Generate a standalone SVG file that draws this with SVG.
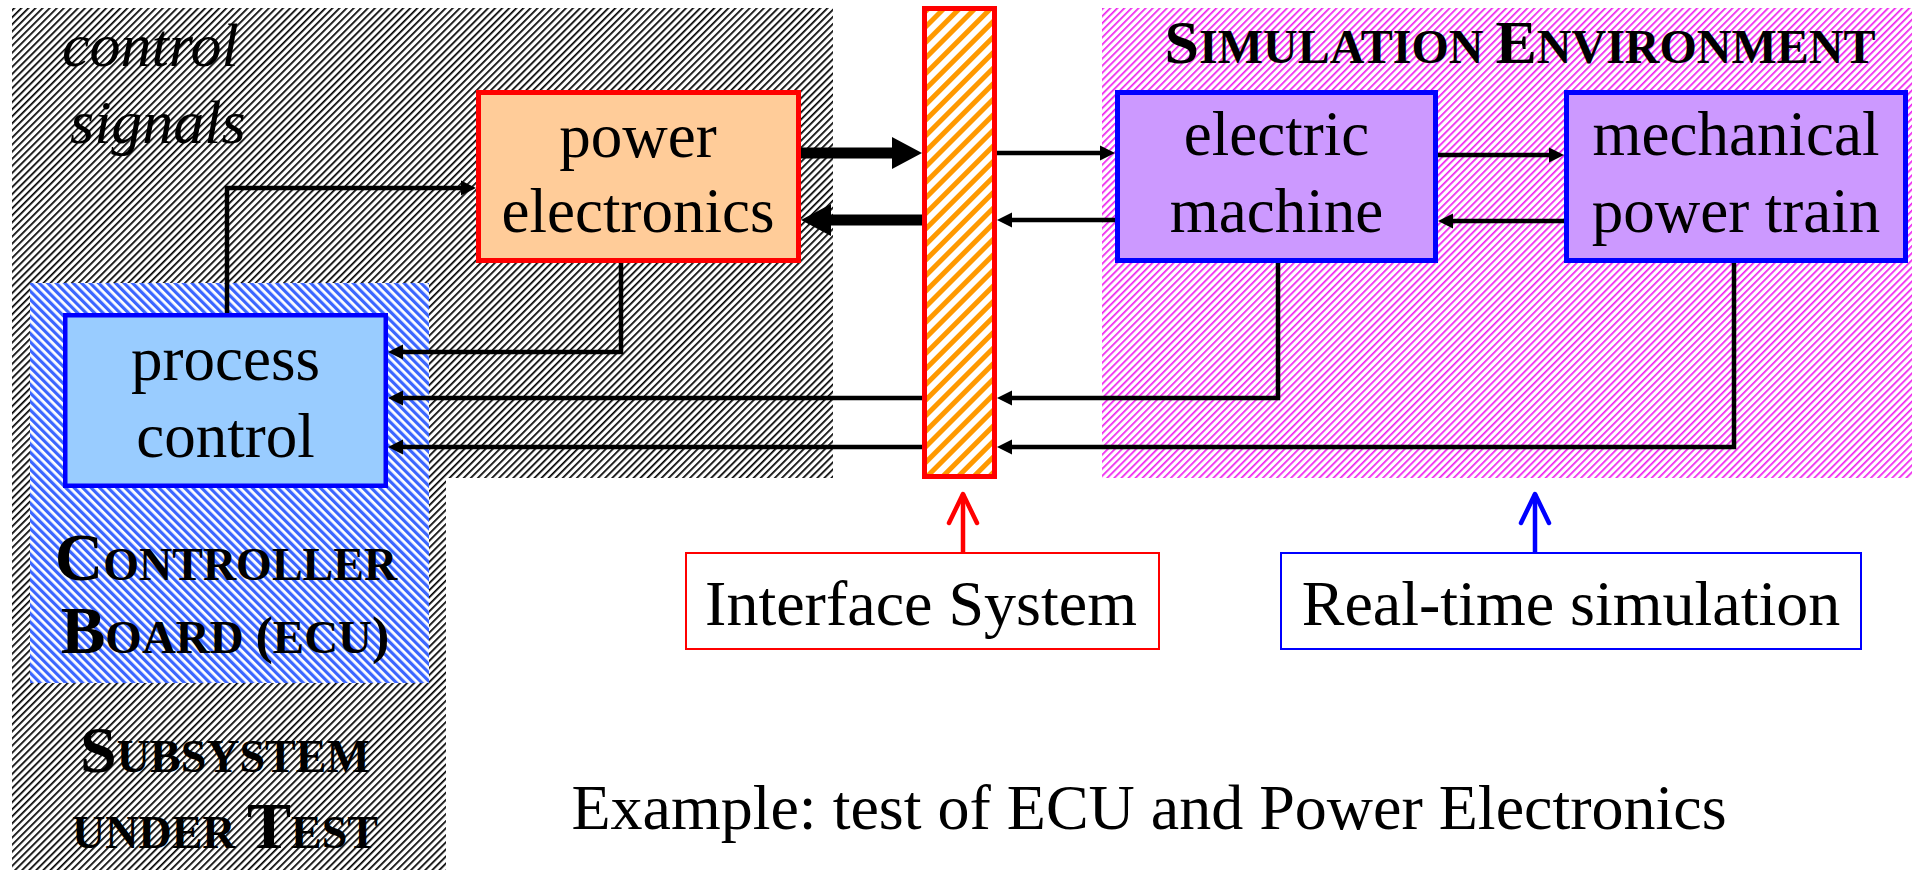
<svg xmlns="http://www.w3.org/2000/svg" width="1912" height="870" viewBox="0 0 1912 870">
<style>
.lbl{font-family:"Liberation Serif","Times New Roman",serif;font-size:63px;fill:#000;text-anchor:middle}
.title{font-family:"Liberation Serif","Times New Roman",serif;font-weight:bold;fill:#000;text-anchor:middle}
.note{font-family:"Liberation Serif","Times New Roman",serif;font-size:64px;fill:#000;text-anchor:middle}
.ital{font-family:"Liberation Serif","Times New Roman",serif;font-style:italic;font-size:62px;fill:#000}
.thin{fill:none;stroke:#000;stroke-width:4.5}
.thick{fill:none;stroke:#000;stroke-width:11}
</style>
<defs>
<pattern id="hGray" patternUnits="userSpaceOnUse" width="5" height="5" patternTransform="rotate(45)">
<rect width="5" height="5" fill="#fff"/><rect width="1.7" height="5" fill="#000"/>
</pattern>
<pattern id="hBlue" patternUnits="userSpaceOnUse" width="6" height="6" patternTransform="rotate(-45)">
<rect width="6" height="6" fill="#fff"/><rect width="3.2" height="6" fill="#3b66ff"/>
</pattern>
<pattern id="hMag" patternUnits="userSpaceOnUse" width="5" height="5" patternTransform="rotate(45)">
<rect width="5" height="5" fill="#fff"/><rect width="1.7" height="5" fill="#ee22ee"/>
</pattern>
<pattern id="hOrange" patternUnits="userSpaceOnUse" width="11" height="11" patternTransform="rotate(45)">
<rect width="11" height="11" fill="#fff"/><rect width="5" height="11" fill="#ff9900"/>
</pattern>
<marker id="aThin" markerUnits="userSpaceOnUse" markerWidth="16" markerHeight="16" refX="2" refY="7.5" orient="auto" overflow="visible">
<path d="M0,0 L15,7.5 L0,15 Z" fill="#000"/>
</marker>
<marker id="aThick" markerUnits="userSpaceOnUse" markerWidth="32" markerHeight="34" refX="2" refY="16" orient="auto" overflow="visible">
<path d="M0,0 L30,16 L0,32 Z" fill="#000"/>
</marker>
<marker id="aRed" markerUnits="userSpaceOnUse" markerWidth="32" markerHeight="32" refX="29" refY="14" orient="auto" overflow="visible">
<path d="M0,0 L29,14 L0,28" fill="none" stroke="#ff0000" stroke-width="4.5" stroke-linecap="round" stroke-linejoin="round"/>
</marker>
<marker id="aBlue" markerUnits="userSpaceOnUse" markerWidth="32" markerHeight="32" refX="29" refY="14" orient="auto" overflow="visible">
<path d="M0,0 L29,14 L0,28" fill="none" stroke="#0000ff" stroke-width="4.5" stroke-linecap="round" stroke-linejoin="round"/>
</marker>
</defs>

<rect width="1912" height="870" fill="#fff"/>

<g id="subsystem-under-test">
<path d="M12,8 H833 V478 H446 V870 H12 Z" fill="url(#hGray)"/>
<text class="ital" x="62" y="66">control</text>
<text class="ital" x="70" y="143">signals</text>
<text class="title" x="225" y="772"><tspan font-size="66">S</tspan><tspan font-size="46">UBSYSTEM</tspan></text>
<text class="title" x="225" y="848"><tspan font-size="46">UNDER </tspan><tspan font-size="66">T</tspan><tspan font-size="46">EST</tspan></text>
</g>

<g id="simulation-environment">
<rect x="1102" y="8" width="810" height="470" fill="url(#hMag)"/>
<text class="title" x="1520" y="63"><tspan font-size="62">S</tspan><tspan font-size="48">IMULATION </tspan><tspan font-size="62">E</tspan><tspan font-size="48">NVIRONMENT</tspan></text>
</g>

<g id="controller-board">
<rect x="30" y="283" width="399" height="400" fill="url(#hBlue)"/>
<text class="title" x="226" y="580"><tspan font-size="67">C</tspan><tspan font-size="46">ONTROLLER</tspan></text>
<text class="title" x="225" y="653"><tspan font-size="67">B</tspan><tspan font-size="47">OARD </tspan><tspan font-size="52">(</tspan><tspan font-size="47">ECU</tspan><tspan font-size="52">)</tspan></text>
</g>

<g id="interface-bar">
<rect x="924.5" y="8.5" width="70" height="468" fill="url(#hOrange)" stroke="#ff0000" stroke-width="5"/>
</g>

<g id="power-electronics">
<rect x="478.5" y="92.5" width="320" height="168" fill="#ffcc99" stroke="#ff0000" stroke-width="5"/>
<text class="lbl" x="638" y="157">power</text>
<text class="lbl" x="638" y="232">electronics</text>
</g>

<g id="electric-machine">
<rect x="1117.5" y="92.5" width="318" height="168" fill="#cc99ff" stroke="#0000ff" stroke-width="5"/>
<text class="lbl" x="1276.5" y="155">electric</text>
<text class="lbl" x="1276.5" y="232">machine</text>
</g>

<g id="mechanical-power-train">
<rect x="1566.5" y="92.5" width="339" height="168" fill="#cc99ff" stroke="#0000ff" stroke-width="5"/>
<text class="lbl" x="1736" y="155">mechanical</text>
<text class="lbl" x="1736" y="232">power train</text>
</g>

<g id="process-control">
<rect x="65.25" y="315.25" width="320.5" height="170.5" fill="#99ccff" stroke="#0000ff" stroke-width="4.5"/>
<text class="lbl" x="225.5" y="380">process</text>
<text class="lbl" x="225.5" y="457">control</text>
</g>

<g id="interface-system-label">
<rect x="686" y="553" width="473" height="96" fill="#fff" stroke="#ff0000" stroke-width="2"/>
<text class="note" x="921" y="625">Interface System</text>
</g>

<g id="real-time-simulation-label">
<rect x="1281" y="553" width="580" height="96" fill="#fff" stroke="#0000ff" stroke-width="2"/>
<text class="note" x="1571" y="625">Real-time simulation</text>
</g>

<g id="caption">
<text class="note" x="1149" y="829">Example: test of ECU and Power Electronics</text>
</g>

<g id="connectors">
<path class="thin" d="M227,313 V188 H463" marker-end="url(#aThin)"/>
<path class="thin" d="M621,263 V352 H401" marker-end="url(#aThin)"/>
<path class="thin" d="M922,398 H401" marker-end="url(#aThin)"/>
<path class="thin" d="M922,447 H401" marker-end="url(#aThin)"/>
<path class="thin" d="M1278,263 V398 H1010" marker-end="url(#aThin)"/>
<path class="thin" d="M1734,263 V447 H1010" marker-end="url(#aThin)"/>
<path class="thick" d="M801,153 H894" marker-end="url(#aThick)"/>
<path class="thick" d="M922,220 H829" marker-end="url(#aThick)"/>
<path class="thin" d="M997,153 H1102" marker-end="url(#aThin)"/>
<path class="thin" d="M1115,220 H1010" marker-end="url(#aThin)"/>
<path class="thin" d="M1438,155 H1551" marker-end="url(#aThin)"/>
<path class="thin" d="M1564,221 H1451" marker-end="url(#aThin)"/>
<path d="M963,552 V494" fill="none" stroke="#ff0000" stroke-width="4.5" marker-end="url(#aRed)"/>
<path d="M1535,552 V494" fill="none" stroke="#0000ff" stroke-width="4.5" marker-end="url(#aBlue)"/>
</g>
</svg>
